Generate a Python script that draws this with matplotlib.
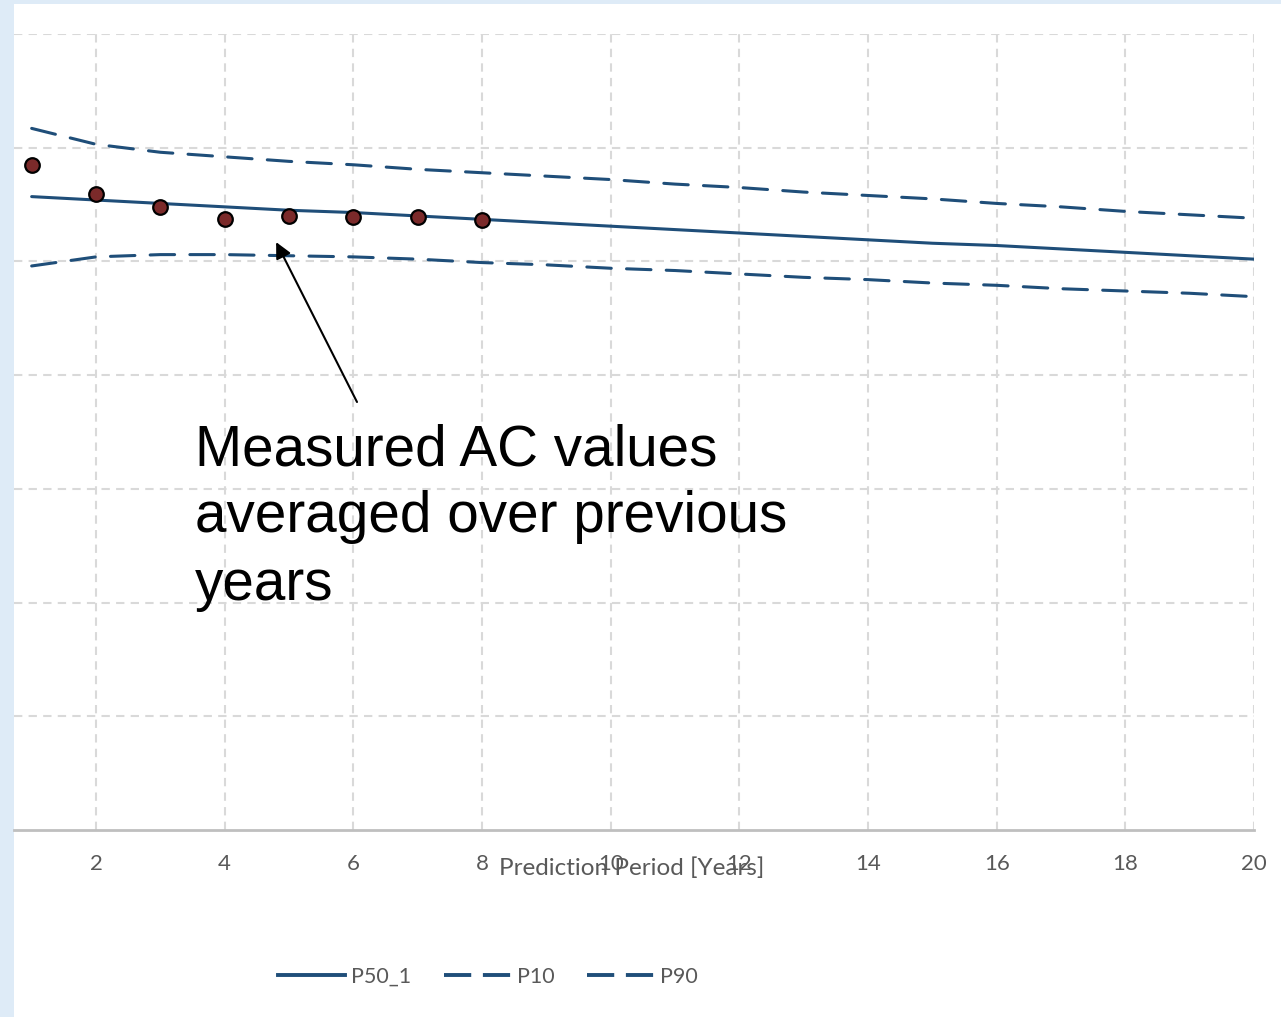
import matplotlib
matplotlib.use("Agg")
import matplotlib.pyplot as plt
from matplotlib.patches import Rectangle
from matplotlib.lines import Line2D

# Prediction horizon (years) and the modelled percentile curves
years = [1, 2, 3, 4, 5, 6, 7, 8, 9, 10, 11, 12, 13, 14, 15, 16, 17, 18, 19, 20]
p50 = [5.57, 5.54, 5.51, 5.48, 5.45, 5.43, 5.40, 5.37, 5.34, 5.31,
       5.28, 5.25, 5.22, 5.19, 5.16, 5.14, 5.11, 5.08, 5.05, 5.02]
p90 = [6.17, 6.03, 5.96, 5.92, 5.88, 5.85, 5.81, 5.78, 5.75, 5.72,
       5.68, 5.65, 5.61, 5.58, 5.55, 5.51, 5.48, 5.44, 5.41, 5.38]
p10 = [4.96, 5.04, 5.06, 5.06, 5.05, 5.04, 5.02, 4.99, 4.97, 4.94,
       4.92, 4.89, 4.86, 4.84, 4.81, 4.79, 4.76, 4.74, 4.72, 4.69]

# Measured AC values averaged over previous years
meas_years = [1, 2, 3, 4, 5, 6, 7, 8]
meas_vals = [5.85, 5.59, 5.48, 5.37, 5.40, 5.39, 5.39, 5.36]

xticks = [2, 4, 6, 8, 10, 12, 14, 16, 18, 20]

W, H = 1281, 1017
fig = plt.figure(figsize=(W / 100, H / 100), dpi=100)
fig.patch.set_facecolor("#deebf7")
fig.patches.append(Rectangle((14 / W, 0), 1 - 14 / W, 1 - 4 / H,
                             transform=fig.transFigure, facecolor="white",
                             edgecolor="none", zorder=-10))

ax = fig.add_axes([14 / W, 1 - 830 / H, (1254 - 14) / W, (830 - 34) / H])
ax.set_facecolor("none")

line_color = "#1f4e79"
ax.plot(years, p50, color=line_color, lw=2.2, solid_capstyle="round", zorder=3)
ax.plot(years, p10, color=line_color, lw=2.2, dashes=(8, 5), dash_capstyle="round", zorder=3)
ax.plot(years, p90, color=line_color, lw=2.2, dashes=(8, 5), dash_capstyle="round", zorder=3)
ax.plot(meas_years, meas_vals, ls="none", marker="o", ms=10.5,
        mfc="#7b2a2a", mec="black", mew=1.6, zorder=4)

ax.set_xlim(0.7254, 20)
ax.set_ylim(0, 7)
ax.set_xticks(xticks)
ax.set_yticks([1, 2, 3, 4, 5, 6, 7])
ax.set_yticklabels([])
ax.tick_params(axis="y", length=0)
ax.tick_params(axis="x", length=0, pad=17, labelcolor="#595959", labelsize=16)
for lab in ax.get_xticklabels():
    lab.set_family("Lato")
ax.grid(True, color="#d9d9d9", lw=1.5, dashes=(4, 3))
for s in ("top", "right", "left"):
    ax.spines[s].set_visible(False)
ax.spines["bottom"].set_color("#bfbfbf")
ax.spines["bottom"].set_linewidth(2)

fig.text(632 / W, 1 - 868 / H, "Prediction Period [Years]", ha="center", va="center",
         color="#595959", fontsize=17.5, family="Lato")

# Callout pointing at the measured points
ax.annotate("", xy=(4.8, 5.17), xycoords="data",
            xytext=(357 / W, 1 - 402 / H), textcoords="figure fraction",
            arrowprops=dict(arrowstyle="-|>", color="black", lw=1.5,
                            mutation_scale=24, shrinkA=0, shrinkB=0))
fig.text(195 / W, 1 - 423 / H, "Measured AC values\naveraged over previous\nyears",
         ha="left", va="top", fontsize=40.8, family="Liberation Sans",
         color="black", linespacing=1.32)

handles = [Line2D([], [], color=line_color, lw=2.8),
           Line2D([], [], color=line_color, lw=2.8, dashes=(7, 3)),
           Line2D([], [], color=line_color, lw=2.8, dashes=(7, 3))]
fig.legend(handles, ["P50_1", "P10", "P90"], loc="center",
           bbox_to_anchor=(488 / W, 1 - 977 / H), ncol=3, frameon=False,
           handlelength=3.1, handletextpad=0.3, columnspacing=1.5,
           prop=dict(family="Lato", size=15.5), labelcolor="#595959")

fig.savefig("out.png", dpi=100, facecolor=fig.get_facecolor())
